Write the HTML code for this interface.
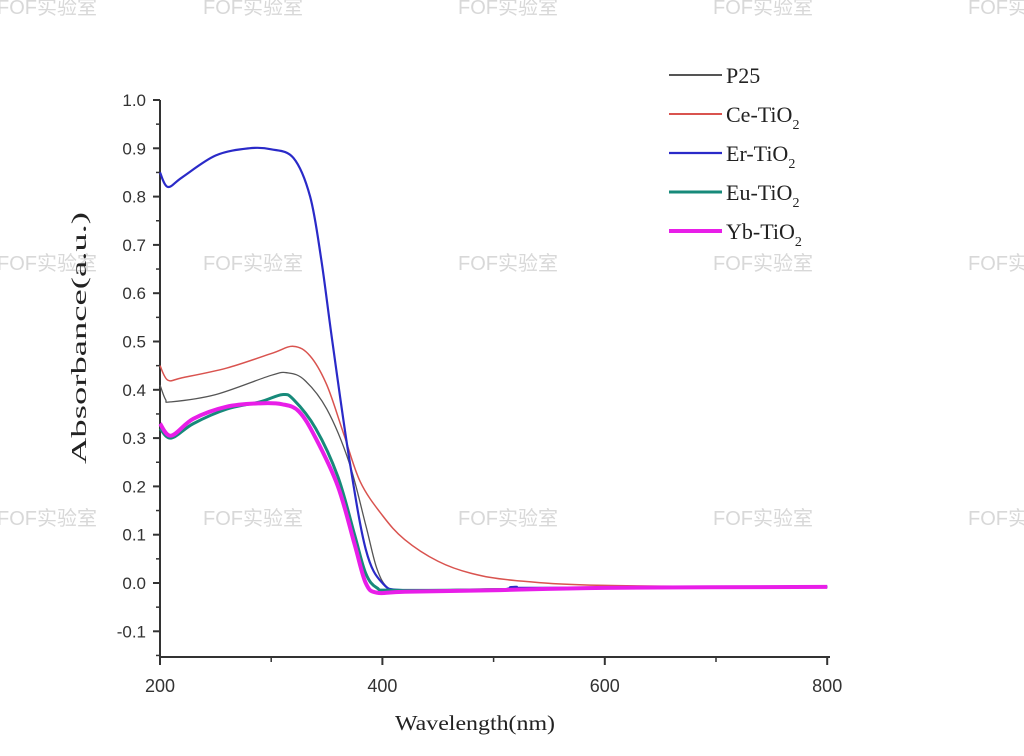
<!DOCTYPE html>
<html><head><meta charset="utf-8"><style>
body{margin:0;background:#fff;}
svg{display:block;}
</style></head><body>
<svg id="chart" width="1024" height="756" viewBox="0 0 1024 756" xmlns="http://www.w3.org/2000/svg">
<g id="wm" font-family="Liberation Sans, Noto Sans CJK SC, sans-serif" font-size="20" fill="#d8d8d8"></g>
<g id="axes"></g>
<g id="series"></g>
<g id="legend" font-family="Liberation Serif, serif" font-size="22" fill="#222"></g>
<text x="86" y="338" transform="rotate(-90 86 338)" text-anchor="middle" textLength="252" lengthAdjust="spacingAndGlyphs" font-family="Liberation Serif, serif" font-size="21" fill="#222">Absorbance(a.u.)</text>
<text x="475" y="730" text-anchor="middle" textLength="160" lengthAdjust="spacingAndGlyphs" font-family="Liberation Serif, serif" font-size="21" fill="#222">Wavelength(nm)</text>
</svg>
<script>
const xTicks=[200,400,600,800];
const yTicks=[-0.1,0,0.1,0.2,0.3,0.4,0.5,0.6,0.7,0.8,0.9,1.0];
const seriesNames=["P25","Ce-TiO2","Er-TiO2","Eu-TiO2","Yb-TiO2"];
const p25X=[200,205,210,250,300,315,330,350,370,385,395,405,420,500,600,800];
const p25Y=[0.41,0.38,0.375,0.39,0.43,0.435,0.42,0.36,0.25,0.12,0.03,-0.01,-0.015,-0.012,-0.01,-0.008];
const ceX=[200,207,220,260,300,320,335,350,365,380,400,420,450,480,520,600,800];
const ceY=[0.45,0.42,0.425,0.445,0.475,0.49,0.47,0.41,0.31,0.21,0.14,0.09,0.045,0.02,0.005,-0.005,-0.008];
const erX=[200,207,220,250,280,300,320,335,345,355,370,385,400,420,500,520,540,800];
const erY=[0.85,0.82,0.84,0.885,0.9,0.898,0.88,0.8,0.67,0.5,0.26,0.07,0.0,-0.015,-0.015,-0.008,-0.01,-0.008];
const euX=[200,210,230,260,290,310,320,340,360,375,385,395,410,500,600,800];
const euY=[0.32,0.3,0.33,0.36,0.375,0.39,0.38,0.32,0.22,0.1,0.02,-0.01,-0.015,-0.014,-0.01,-0.008];
const ybX=[200,210,230,260,290,310,325,340,360,375,385,395,420,500,600,800];
const ybY=[0.33,0.305,0.34,0.365,0.372,0.37,0.355,0.3,0.2,0.08,0.0,-0.02,-0.018,-0.015,-0.01,-0.008];
const NS="http://www.w3.org/2000/svg";
const X=w=>160+(w-200)*1.112;
const Y=v=>583-v*483;
function el(t,a,p){const e=document.createElementNS(NS,t);for(const k in a)e.setAttribute(k,a[k]);p.appendChild(e);return e;}
const wm=document.getElementById('wm');
[14,270,525].forEach(yy=>[-3,203,458,713,968].forEach(xx=>{const t=el('text',{x:xx,y:yy},wm);t.textContent='FOF实验室';

}));
const ax=document.getElementById('axes');
const yl=el('line',{x1:160,y1:100,x2:160,y2:657,stroke:'#333','stroke-width':2},ax);

const xl=el('line',{x1:159,y1:657,x2:830,y2:657,stroke:'#333','stroke-width':2},ax);

yTicks.forEach(v=>{el('line',{x1:153,y1:Y(v),x2:160,y2:Y(v),stroke:'#333','stroke-width':2},ax);
el('line',{x1:156,y1:Y(v-0.05),x2:160,y2:Y(v-0.05),stroke:'#333','stroke-width':1.5},ax);
const t=el('text',{x:146,y:Y(v)+6,'text-anchor':'end','font-family':'Liberation Sans, sans-serif','font-size':17,fill:'#333'},ax);
t.textContent=v.toFixed(1);

});
xTicks.forEach(w=>{el('line',{x1:X(w),y1:657,x2:X(w),y2:665,stroke:'#333','stroke-width':2},ax);
if(w<800)el('line',{x1:X(w+100),y1:657,x2:X(w+100),y2:662,stroke:'#333','stroke-width':1.5},ax);
const t=el('text',{x:X(w),y:692,'text-anchor':'middle','font-family':'Liberation Sans, sans-serif','font-size':18,fill:'#333'},ax);
t.textContent=w;

});
function path(xs,ys){const p=xs.map((x,i)=>[X(x),Y(ys[i])]);let d='M'+p[0][0]+','+p[0][1];
for(let i=0;i<p.length-1;i++){const p0=p[i-1]||p[i],p1=p[i],p2=p[i+1],p3=p[i+2]||p2;
d+=' C'+(p1[0]+(p2[0]-p0[0])/6)+','+(p1[1]+(p2[1]-p0[1])/6)+' '+(p2[0]-(p3[0]-p1[0])/6)+','+(p2[1]-(p3[1]-p1[1])/6)+' '+p2[0]+','+p2[1];}return d;}
const sData=[[p25X,p25Y,'#555',1.3],[ceX,ceY,'#d9534f',1.5],[erX,erY,'#2a2ac8',2.2],[euX,euY,'#178a7a',3],[ybX,ybY,'#e81ee8',4]];
const sg=document.getElementById('series');
const order=[1,0,2,3,4];
order.forEach(i=>{const s=sData[i];const e=el('path',{d:path(s[0],s[1]),fill:'none',stroke:s[2],'stroke-width':s[3],'stroke-linejoin':'round'},sg);

});
const lg=document.getElementById('legend');
seriesNames.forEach((n,i)=>{const y=75+i*39;const s=sData[i];
el('line',{x1:669,y1:y,x2:722,y2:y,stroke:s[2],'stroke-width':Math.max(2,s[3])},lg);
const t=el('text',{x:726,y:y+8},lg);


if(n.endsWith('2')){t.textContent=n.slice(0,-1);const sub=el('tspan',{'font-size':14,dy:7},t);sub.textContent='2';}else t.textContent=n;});
</script>
</body></html>
